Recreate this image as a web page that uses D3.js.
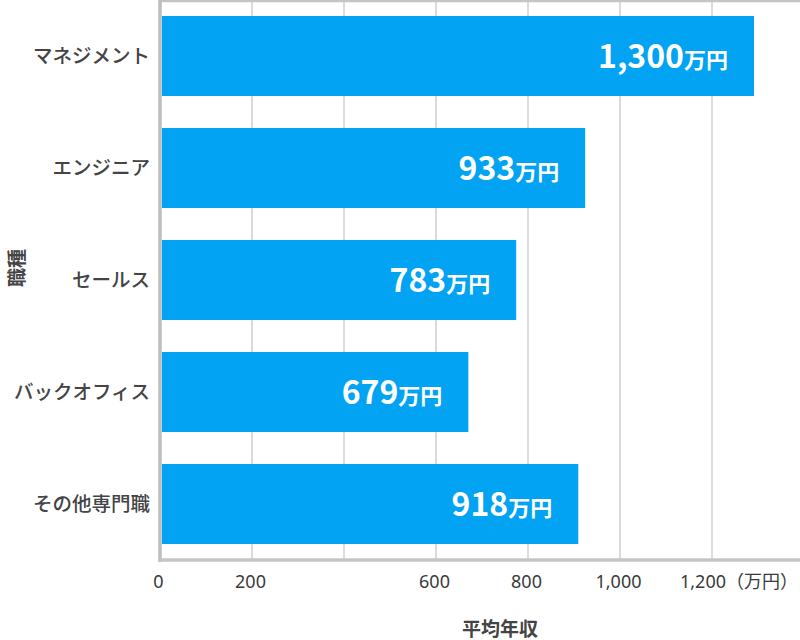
<!DOCTYPE html>
<html>
<head>
<meta charset="utf-8">
<script src="https://cdn.jsdelivr.net/npm/d3@7"></script>
<style>
body{margin:0;background:#fff}
text{font-family:"Noto Sans CJK JP","Noto Sans",sans-serif}
</style>
</head>
<body>
<div id="chart"></div>
<script>
var w = 800
var h = 640

// data
var jobs = ["マネジメント","エンジニア","セールス","バックオフィス","その他専門職"]
var salary = [1300,933,783,679,918]
var gridValues = [200,400,600,800,1000,1200]
var tickValues = [0,200,600,800,1000,1200]
var unit = "万円"

var left = 160, bottom = 560

var x = d3.scaleLinear().domain([0,1400]).range([left,left+644])
var y = d3.scaleBand().domain(jobs).range([0,bottom])
    .paddingInner(32/112).paddingOuter(16/112)

var svg = d3.select("#chart").append("svg").attr("width",w).attr("height",h)

// grid
svg.selectAll(".grid")
    .data(gridValues)
    .enter()
    .append("line")
    .attr("x1",function(d){return x(d)})
    .attr("x2",function(d){return x(d)})
    .attr("y1",0)
    .attr("y2",bottom)
    .attr("stroke","#d2d2d2")
    .attr("stroke-width",1.6)

// top border
svg.append("line")
    .attr("x1",left).attr("x2",w)
    .attr("y1",1).attr("y2",1)
    .attr("stroke","#c4c4c4").attr("stroke-width",2.5)

// bars
var bars = jobs.map(function(d,i){return {job:d,v:salary[i]}})
svg.selectAll(".bar")
    .data(bars)
    .enter()
    .append("rect")
    .attr("x",x(0)+2)
    .attr("y",function(d){return y(d.job)})
    .attr("width",function(d){return x(d.v)-x(0)-6})
    .attr("height",y.bandwidth())
    .attr("fill","#03a3f4")

// bar labels
var lab = svg.selectAll(".lab")
    .data(bars)
    .enter()
    .append("text")
    .attr("x",function(d){return x(d.v)-4-26})
    .attr("y",function(d){return y(d.job)+y.bandwidth()/2+12})
    .attr("text-anchor","end")
    .attr("fill","#fff")
    .attr("font-weight","bold")
lab.append("tspan")
    .attr("font-size",32)
    .text(function(d){return d3.format(",")(d.v)})
lab.append("tspan")
    .attr("font-size",22)
    .text(unit)

// axes lines
svg.append("line")
    .attr("x1",left).attr("x2",left)
    .attr("y1",0).attr("y2",bottom+2)
    .attr("stroke","#bdbdbd").attr("stroke-width",3.5)
svg.append("line")
    .attr("x1",left-2).attr("x2",w)
    .attr("y1",bottom).attr("y2",bottom)
    .attr("stroke","#c4c4c4").attr("stroke-width",3.5)

// category labels
svg.selectAll(".cat")
    .data(jobs)
    .enter()
    .append("text")
    .attr("x",150)
    .attr("y",function(d){return y(d)+y.bandwidth()/2})
    .attr("dy","0.36em")
    .attr("text-anchor","end")
    .attr("font-size",19.5)
    .attr("font-weight",500)
    .attr("fill","#444")
    .text(function(d){return d})

// tick labels
svg.selectAll(".tick")
    .data(tickValues)
    .enter()
    .append("text")
    .attr("x",function(d,i){return i==tickValues.length-1 ? x(d)-32 : x(d)-1.5})
    .attr("y",588)
    .attr("text-anchor",function(d,i){return i==tickValues.length-1 ? "start" : "middle"})
    .attr("font-size",18)
    .style("font-family","'Noto Sans','Noto Sans CJK JP',sans-serif")
    .attr("fill","#3a3a3a")
    .text(function(d,i){
        var s = d3.format(",")(d)
        return i==tickValues.length-1 ? s+"（万円）" : s
    })

// axis titles
svg.append("text")
    .attr("x",500).attr("y",636)
    .attr("text-anchor","middle")
    .attr("font-size",19)
    .attr("font-weight","bold")
    .attr("fill","#444")
    .text("平均年収")
svg.append("text")
    .attr("transform","translate(24,268) rotate(-90)")
    .attr("text-anchor","middle")
    .attr("font-size",19)
    .attr("font-weight","bold")
    .attr("fill","#444")
    .text("職種")
</script>
</body>
</html>
